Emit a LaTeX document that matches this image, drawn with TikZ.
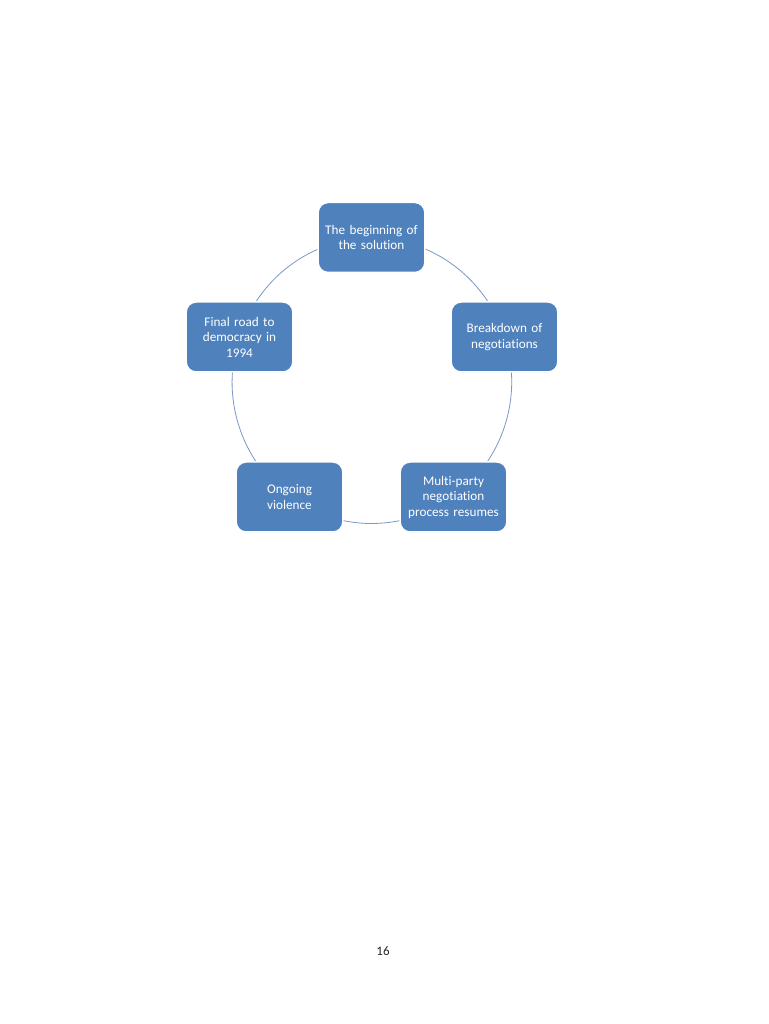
\documentclass[tikz,border=0pt]{standalone}
\usepackage{fontspec}
\setmainfont[Ligatures={NoCommon}]{Carlito}
\usetikzlibrary{shadows,backgrounds}
\definecolor{boxblue}{RGB}{79,129,189}
\definecolor{arcblue}{RGB}{122,152,196}
\begin{document}
\begin{tikzpicture}[x=1pt,y=1pt,
  cyclebox/.style={rectangle, rounded corners=10pt, fill=boxblue, draw=white, line width=1.5pt,
    minimum width=105pt, minimum height=70pt, text width=100pt, align=center,
    text=white, font=\fontsize{13.2}{15.5}\selectfont,
    drop shadow={opacity=0.18, shadow xshift=0.6pt, shadow yshift=-0.6pt}},
  cyclearc/.style={draw=arcblue, line width=0.8pt}]
\useasboundingbox (0,0) rectangle (768,1024);
\node[cyclebox] (top) at (371.5,786.5) {The beginning of\\the solution};
\node[cyclebox] (right) at (504.5,687) {Breakdown of\\negotiations};
\node[cyclebox] (br) at (453.5,527) {Multi-party\\negotiation\\process resumes};
\node[cyclebox] (bl) at (289.5,527) {Ongoing\\violence};
\node[cyclebox] (left) at (239.5,687) {Final road to\\democracy in\\1994};
\node[font=\fontsize{13}{15}\selectfont, text=black!85] (page) at (383,73) {16};
\begin{pgfonlayer}{background}
\fill[white] (0,0) rectangle (768,1024);
\draw[cyclearc] (top.center) to[bend left=36, looseness=0.94] (right.center);
\draw[cyclearc] (right.center) to[bend left=36, looseness=0.94] (br.center);
\draw[cyclearc] (br.center) to[bend left=36, looseness=0.94] (bl.center);
\draw[cyclearc] (bl.center) to[bend left=36, looseness=0.94] (left.center);
\draw[cyclearc] (left.center) to[bend left=36, looseness=0.94] (top.center);
\end{pgfonlayer}
\end{tikzpicture}
\end{document}
